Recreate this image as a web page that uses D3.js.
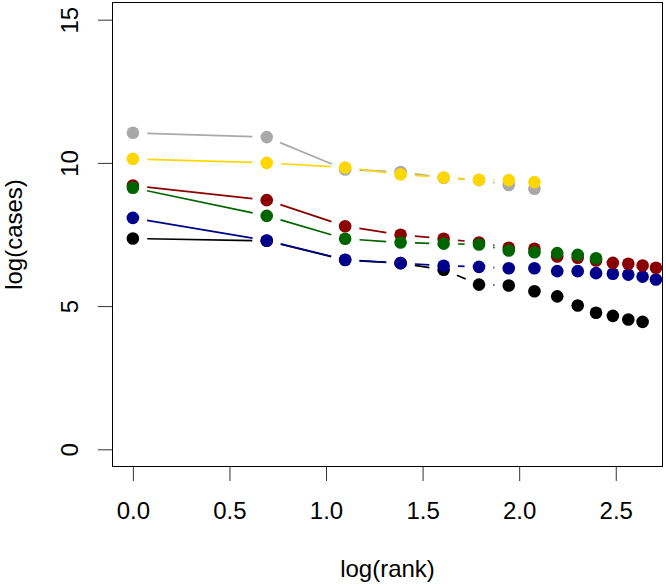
<!DOCTYPE html>
<html>
<head>
<meta charset="utf-8">
<script src="https://cdn.jsdelivr.net/npm/d3@7"></script>
<style>
  html, body { margin: 0; padding: 0; background: #fff; }
  svg { display: block; }
  text { font-family: "Liberation Sans", Arial, sans-serif; fill: #000; }
</style>
</head>
<body>
<svg id="chart" width="666" height="584"></svg>
<script>
// ---- data ----
const logRank = [0, 0.693, 1.099, 1.386, 1.609, 1.792, 1.946, 2.079, 2.197, 2.303, 2.398, 2.485, 2.565, 2.639, 2.708];

const grayVals  = [11.05, 10.90, 9.77, 9.68, 9.48, 9.40, 9.23, 9.10];
const goldVals  = [10.14, 10.00, 9.84, 9.60, 9.49, 9.41, 9.40, 9.33];
const redVals   = [9.21, 8.70, 7.79, 7.49, 7.35, 7.22, 7.04, 7.00, 6.73, 6.69, 6.59, 6.51, 6.48, 6.42, 6.34];
const greenVals = [9.13, 8.15, 7.35, 7.22, 7.18, 7.15, 6.94, 6.88, 6.85, 6.79, 6.67];
const navyVals  = [8.08, 7.29, 6.62, 6.50, 6.41, 6.37, 6.32, 6.32, 6.22, 6.22, 6.15, 6.13, 6.10, 6.03, 5.93];
const blackVals = [7.36, 7.28, 6.61, 6.50, 6.27, 5.75, 5.72, 5.52, 5.34, 5.02, 4.77, 4.66, 4.53, 4.45];

// draw order (later on top)
const seriesNames  = ["black", "navy", "red", "green", "gray", "gold"];
const seriesValues = [blackVals, navyVals, redVals, greenVals, grayVals, goldVals];
const seriesColors = ["#000000", "#00008B", "#8B0000", "#006400", "#A9A9A9", "#FFD700"];

const xTicks = [0, 0.5, 1, 1.5, 2, 2.5];
const xTickLabels = ["0.0", "0.5", "1.0", "1.5", "2.0", "2.5"];
const yTicks = [0, 5, 10, 15];
const yTickLabels = ["0", "5", "10", "15"];

const xTitle = "log(rank)";
const yTitle = "log(cases)";

// ---- layout ----
const svg = d3.select("#chart");
const box = { left: 112.5, right: 662.5, top: 2.5, bottom: 466.5 };
const x = d3.scaleLinear().domain([-0.1055, 2.742]).range([box.left, box.right]);
const y = d3.scaleLinear().domain([-0.6, 15.6]).range([box.bottom, box.top]);

svg.append("rect").attr("width", 666).attr("height", 584).attr("fill", "#fff");

// plot box
svg.append("rect")
  .attr("x", box.left).attr("y", box.top)
  .attr("width", box.right - box.left).attr("height", box.bottom - box.top)
  .attr("fill", "none").attr("stroke", "#000").attr("stroke-width", 1);

// x axis
const xAxis = d3.axisBottom(x).tickValues(xTicks)
  .tickFormat((d, i) => xTickLabels[i]).tickSize(14.5).tickPadding(0);
const gx = svg.append("g").attr("transform", `translate(0,${box.bottom})`).call(xAxis);
gx.select(".domain").remove();
gx.selectAll(".tick line").attr("stroke", "#333").attr("stroke-width", 1);
gx.selectAll(".tick text").remove();
gx.selectAll(".tick").append("text")
  .attr("x", 0).attr("y", 52)
  .attr("text-anchor", "middle")
  .style("font-size", "24px")
  .text((d, i) => xTickLabels[i]);

// y axis
const yAxis = d3.axisLeft(y).tickValues(yTicks)
  .tickFormat((d, i) => yTickLabels[i]).tickSize(14.5).tickPadding(0);
const gy = svg.append("g").attr("transform", `translate(${box.left},0)`).call(yAxis);
gy.select(".domain").remove();
gy.selectAll(".tick line").attr("stroke", "#333").attr("stroke-width", 1);
gy.selectAll(".tick text").remove();
gy.selectAll(".tick").append("text")
  .attr("transform", "translate(-34.8,0) rotate(-90)")
  .attr("text-anchor", "middle")
  .style("font-size", "24px")
  .text((d, i) => yTickLabels[i]);

// axis titles
svg.append("text")
  .attr("x", (box.left + box.right) / 2).attr("y", 576.5)
  .attr("text-anchor", "middle").style("font-size", "24px")
  .text(xTitle);
svg.append("text")
  .attr("transform", `translate(21.8,${(box.top + box.bottom) / 2}) rotate(-90)`)
  .attr("text-anchor", "middle").style("font-size", "24px")
  .text(yTitle);

// series: type "b" (segments with gaps around points)
const gap = 14.4;
const radius = 6.3;
const plot = svg.append("g");

seriesValues.forEach((vals, si) => {
  const col = seriesColors[si];
  const pts = vals.map((v, i) => [x(logRank[i]), y(v)]);
  const g = plot.append("g").attr("class", "series-" + seriesNames[si]);
  const segs = [];
  for (let i = 1; i < pts.length; i++) {
    const [x0, y0] = pts[i - 1], [x1, y1] = pts[i];
    const dx = x1 - x0, dy = y1 - y0;
    const len = Math.hypot(dx, dy);
    if (len > 2 * gap) {
      const f = gap / len;
      segs.push([x0 + f * dx, y0 + f * dy, x1 - f * dx, y1 - f * dy]);
    }
  }
  g.selectAll("line").data(segs).enter().append("line")
    .attr("x1", d => d[0]).attr("y1", d => d[1])
    .attr("x2", d => d[2]).attr("y2", d => d[3])
    .attr("stroke", col).attr("stroke-width", 1.7);
  g.selectAll("circle").data(vals).enter().append("circle")
    .attr("cx", (d, i) => x(logRank[i]))
    .attr("cy", d => y(d))
    .attr("r", radius)
    .attr("fill", col);
});
</script>
</body>
</html>
